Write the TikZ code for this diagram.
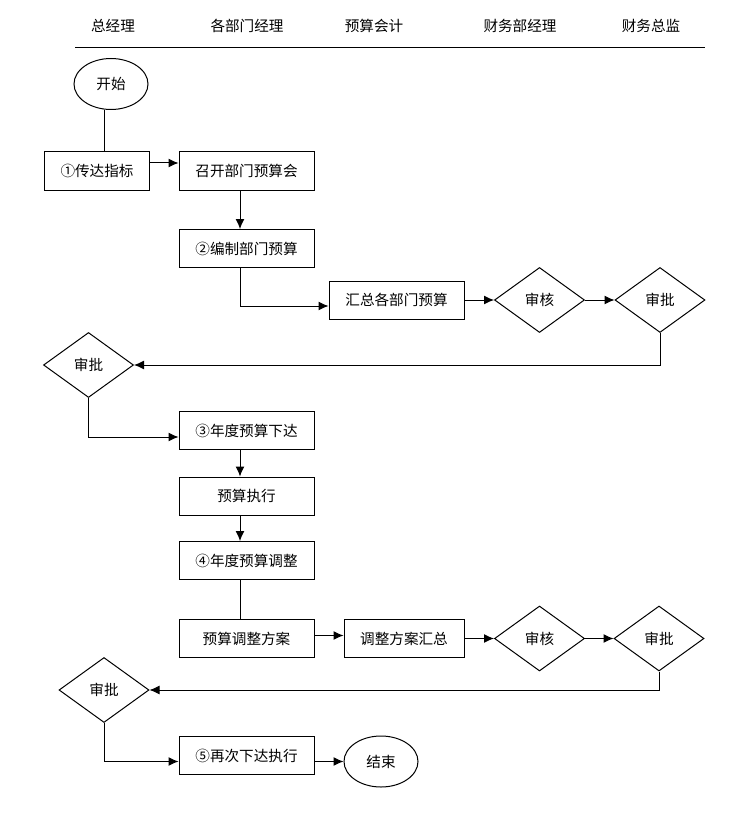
\documentclass[tikz,border=0pt]{standalone}
\usepackage{fontspec}
\setmainfont{Noto Sans CJK SC}
\usetikzlibrary{positioning,shapes.geometric,arrows.meta}
\tikzset{
  every node/.style={
    align=center,
    font=\fontsize{14.6}{16}\selectfont,
  },
  box/.style={draw, line width=1pt, minimum width=135pt, minimum height=38pt, inner sep=0pt},
  check/.style={draw, diamond, line width=1pt, minimum width=90pt, minimum height=65pt, inner sep=0pt},
  term/.style={draw, ellipse, line width=1pt, minimum width=74pt, minimum height=51pt, inner sep=0pt},
  link/.style={line width=1pt},
  flow/.style={link, -{Latex[length=10pt,width=9pt]}},
}

\begin{document}
\begin{tikzpicture}[x=1pt,y=-1pt]
    \useasboundingbox (0,0) rectangle (742,821);
    % header
    \node (gm)  at (113,26) {总经理};
    \node (dm)  at (247,26) {各部门经理};
    \node (acc) at (374,26) {预算会计};
    \node (fm)  at (520,26) {财务部经理};
    \node (cfo) at (651,26) {财务总监};
    \draw[line width=1pt] (75,48) -- (705,48);
    % first round
    \node[term] (start) at (111,84) {开始};
    \node[box, minimum width=105pt] (s1) at (97,171) {①传达指标};
    \node[box] (s2) at (246.5,171) {召开部门预算会};
    \node[box] (s3) at (246.5,248.5) {②编制部门预算};
    \node[box] (sum) at (396.5,300) {汇总各部门预算};
    \node[check] (chk1) at (539.5,300) {审核};
    \node[check] (apv1) at (660,300) {审批};
    \node[check] (apv2) at (88.5,365) {审批};
    \node[box] (s4) at (246.5,430.5) {③年度预算下达};
    \node[box] (run) at (246.5,496) {预算执行};
    \node[box] (s5) at (246.5,560.5) {④年度预算调整};
    % adjustment round
    \node[box] (plan) at (246.5,638.5) {预算调整方案};
    \node[box, minimum width=120pt] (plansum) at (404,638.5) {调整方案汇总};
    \node[check] (chk2) at (539.5,638.5) {审核};
    \node[check] (apv3) at (659,638.5) {审批};
    \node[check] (apv4) at (104,690) {审批};
    \node[box] (s6) at (246.5,755.5) {⑤再次下达执行};
    \node[term] (end) at (381,761.5) {结束};

    \draw[link] ([xshift=-7pt]start.south) -- ([xshift=-7pt]start.south |- s1.north);
    \draw[flow] ([yshift=8pt]s1.east) -- ([yshift=8pt]s1.east -| s2.west);
    \draw[flow] ([xshift=-6.5pt]s2.south) -- ([xshift=-6.5pt]s2.south |- s3.north);
    \draw[flow] ([xshift=-6.5pt]s3.south) |- ([yshift=-6pt]sum.west);
    \draw[flow] (sum) -- (chk1);
    \draw[flow] (chk1) -- (apv1);
    \draw[flow] (apv1.south) |- (apv2.east);
    \draw[flow] (apv2.south) |- ([yshift=-6.5pt]s4.west);
    \draw[flow] ([xshift=-6.5pt]s4.south) -- ([xshift=-6.5pt]s4.south |- run.north);
    \draw[flow] ([xshift=-6.5pt]run.south) -- ([xshift=-6.5pt]run.south |- s5.north);
    \draw[link] ([xshift=-6.5pt]s5.south) -- ([xshift=-6.5pt]s5.south |- plan.north);
    \draw[flow] ([yshift=3pt]plan.east) -- ([yshift=3pt]plan.east -| plansum.west);
    \draw[flow] (plansum) -- (chk2);
    \draw[flow] (chk2) -- (apv3);
    \draw[flow] (apv3.south) |- (apv4.east);
    \draw[flow] (apv4.south) |- ([yshift=-6pt]s6.west);
    \draw[flow] ([yshift=-6pt]s6.east) -- ([yshift=-6pt]s6.east -| end.west);
  \end{tikzpicture}
\end{document}
